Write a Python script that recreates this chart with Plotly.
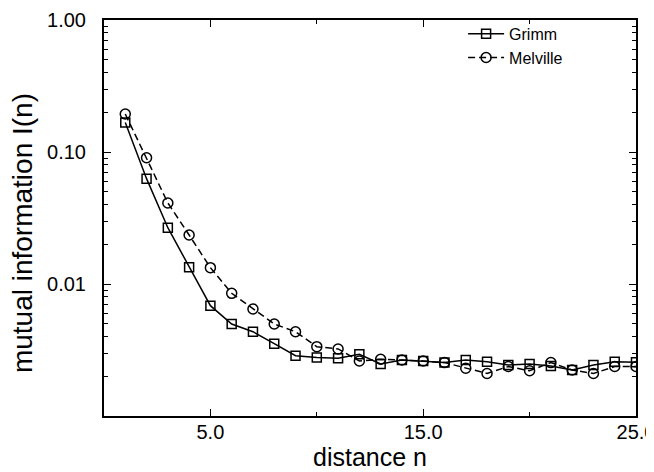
import plotly.graph_objects as go

n = list(range(1, 26))
grimm = [0.167, 0.0628, 0.0267, 0.0134, 0.00685, 0.00498, 0.00435, 0.00353, 0.00286, 0.00277,
         0.00274, 0.00293, 0.00248, 0.00266, 0.00261, 0.00254, 0.00266, 0.00258, 0.00243, 0.00248,
         0.00239, 0.00223, 0.00243, 0.00258, 0.00255]
melville = [0.194, 0.0905, 0.0411, 0.0235, 0.0133, 0.0085, 0.00647, 0.00498, 0.00435, 0.00335,
            0.00322, 0.00261, 0.00269, 0.00266, 0.00261, 0.00254, 0.0023, 0.0021, 0.00237, 0.0022,
            0.00254, 0.00223, 0.0021, 0.00237, 0.00237]

x_major = [5, 15, 25]
x_major_text = ["5.0", "15.0", "25.0"]
x_minor = [10, 20]
y_major = [0.01, 0.1, 1.0]
y_major_text = ["0.01", "0.10", "1.00"]
x_title = "distance n"
y_title = "mutual information I(n)"

y_minor = [k * 10.0 ** e for e in (-3, -2, -1) for k in range(2, 10)]

fig = go.Figure()
fig.add_trace(go.Scatter(
    x=n, y=grimm, name="Grimm", mode="lines+markers",
    line=dict(color="black", width=1.5),
    marker=dict(symbol="square-open", size=9, color="black", line=dict(width=1.5)),
))
fig.add_trace(go.Scatter(
    x=n, y=melville, name="Melville", mode="lines+markers",
    line=dict(color="black", width=1.5, dash="7px,4px"),
    marker=dict(symbol="circle-open", size=10, color="black", line=dict(width=1.5)),
))

font = dict(family="Liberation Sans, Arial, sans-serif", color="black")

fig.update_layout(
    width=654, height=472,
    margin=dict(l=96, r=26, t=12, b=64, autoexpand=False),
    paper_bgcolor="white", plot_bgcolor="white",
    font=dict(**font, size=20),
    legend=dict(x=0.675, y=1.008, xanchor="left", yanchor="top",
                bgcolor="rgba(0,0,0,0)", font=dict(**font, size=16),
                itemwidth=36, tracegroupgap=0),
    xaxis=dict(
        range=[0, 25], tickmode="array", tickvals=x_major, ticktext=x_major_text,
        ticks="inside", ticklen=7, tickwidth=1, tickcolor="black",
        showline=True, linecolor="black", linewidth=2, mirror="ticks",
        showgrid=False, zeroline=False, ticklabelstandoff=-3, automargin=False,
        tickfont=dict(**font, size=20),
        minor=dict(tickmode="array", tickvals=x_minor, ticks="inside", ticklen=4,
                   tickcolor="black", showgrid=False),
    ),
    yaxis=dict(
        type="log", range=[-3, 0], tickmode="array", tickvals=y_major, ticktext=y_major_text,
        ticks="inside", ticklen=7, tickwidth=1, tickcolor="black",
        showline=True, linecolor="black", linewidth=2, mirror="ticks",
        showgrid=False, zeroline=False, ticklabelstandoff=12, automargin=False,
        tickfont=dict(**font, size=20),
        minor=dict(tickmode="array", tickvals=y_minor, ticks="inside", ticklen=4,
                   tickcolor="black", showgrid=False),
    ),
    annotations=[
        dict(text=y_title, xref="paper", yref="paper", x=-0.154, y=0.462,
             xanchor="center", yanchor="middle", textangle=-90, showarrow=False,
             font=dict(**font, size=28)),
        dict(text=x_title, xref="paper", yref="paper", x=0.5, y=-0.1414,
             xanchor="center", yanchor="bottom", showarrow=False, borderpad=0,
             font=dict(**font, size=25)),
    ],
)

fig.write_html("out.html")
